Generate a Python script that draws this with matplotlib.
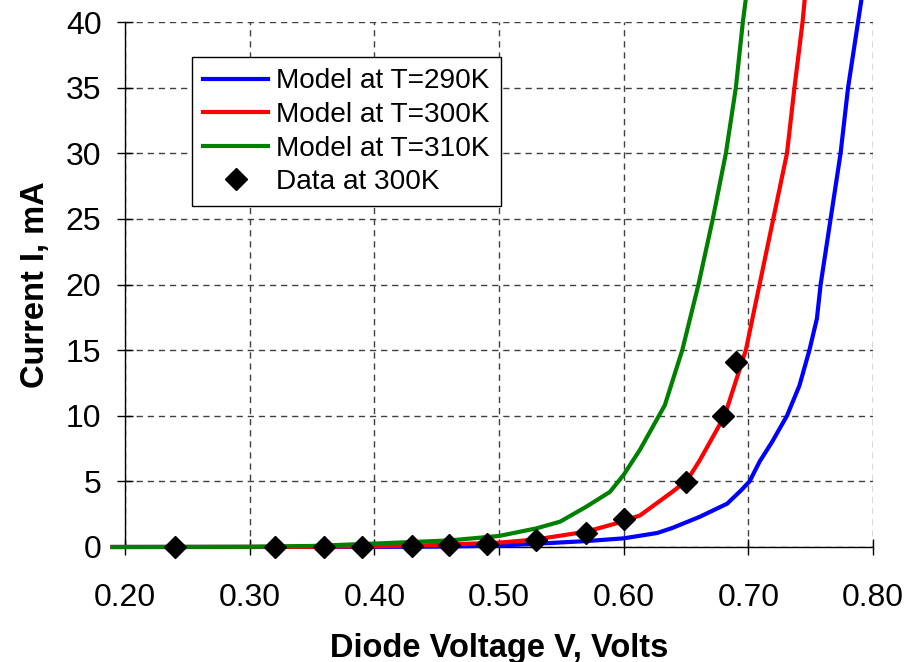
import numpy as np
import matplotlib
matplotlib.use("Agg")
import matplotlib.pyplot as plt

plt.rcParams['font.family'] = ['Liberation Sans', 'DejaVu Sans']

#Model curves (V in volts, I in mA)
v_290 = [0.19, 0.30, 0.40, 0.45, 0.50, 0.57, 0.60, 0.627, 0.639, 0.661, 0.683, 0.694, 0.701,
         0.709, 0.719, 0.731, 0.741, 0.749, 0.755, 0.758, 0.766, 0.774, 0.780, 0.788, 0.792]
i_290 = [0.0, 0.0, 0.01, 0.03, 0.1, 0.45, 0.66, 1.07, 1.45, 2.3, 3.3, 4.3, 5.0,
         6.5, 8.0, 10.0, 12.3, 15.0, 17.4, 20.0, 25.0, 30.0, 35.0, 40.0, 42.5]

v_300 = [0.19, 0.35, 0.40, 0.45, 0.47, 0.50, 0.53, 0.57, 0.594, 0.613, 0.639, 0.651, 0.661,
         0.681, 0.698, 0.709, 0.720, 0.731, 0.737, 0.7435, 0.746]
i_300 = [0.0, 0.01, 0.05, 0.15, 0.23, 0.33, 0.58, 1.17, 1.8, 2.4, 4.2, 5.1, 6.6,
         10.0, 15.0, 20.0, 25.0, 30.0, 35.0, 40.0, 42.5]

v_310 = [0.19, 0.30, 0.35, 0.40, 0.46, 0.50, 0.53, 0.549, 0.57, 0.589, 0.600, 0.613, 0.633,
         0.647, 0.660, 0.6715, 0.682, 0.690, 0.6956, 0.699]
i_310 = [0.0, 0.02, 0.08, 0.26, 0.5, 0.84, 1.42, 1.93, 3.07, 4.2, 5.5, 7.4, 10.8,
         15.0, 20.0, 25.0, 30.0, 35.0, 40.0, 42.5]

#Measured data at 300K
v_data = [0.24, 0.32, 0.36, 0.39, 0.43, 0.46, 0.49, 0.53, 0.57, 0.60, 0.65, 0.68, 0.69]
i_data = [0.0, 0.0, 0.0, 0.0, 0.05, 0.15, 0.23, 0.53, 1.04, 2.1, 4.95, 10.0, 14.1]

x_ticks = [0.2, 0.3, 0.4, 0.5, 0.6, 0.7, 0.8]
y_ticks = [0, 5, 10, 15, 20, 25, 30, 35, 40]

fig = plt.figure(figsize=(9.2, 6.62), dpi=100)
ax = fig.add_axes([125/920, 1-547/662, 748/920, 525/662])

ax.plot(v_290, i_290, color="#0000ff", lw=3, clip_on=False, label="Model at T=290K", zorder=3)
ax.plot(v_300, i_300, color="#ff0000", lw=3, clip_on=False, label="Model at T=300K", zorder=3)
ax.plot(v_310, i_310, color="#008000", lw=3, clip_on=False, label="Model at T=310K", zorder=3)
ax.plot(v_data, i_data, ls="none", marker="D", ms=11.5, color="black", clip_on=False,
        label="Data at 300K", zorder=4)

ax.set_xlim(0.2, 0.8)
ax.set_ylim(0, 40)
ax.set_xticks(x_ticks)
ax.set_xticklabels(["%.2f" % v for v in x_ticks])
ax.set_yticks(y_ticks)

ax.grid(True, color="#404040", lw=1, linestyle=(0, (4.5, 3.5)))
ax.set_axisbelow(True)
ax.spines["top"].set_visible(False)
ax.spines["right"].set_visible(False)
ax.spines["left"].set_linewidth(1)
ax.spines["bottom"].set_linewidth(1)

ax.tick_params(axis="both", direction="inout", length=12, width=1, labelsize=23)
ax.tick_params(axis="x", pad=20)
ax.tick_params(axis="y", pad=11)

ax.set_xlabel("Diode Voltage V, Volts", fontsize=23.5, fontweight="bold")
ax.set_ylabel("Current I, mA", fontsize=23.5, fontweight="bold")
ax.xaxis.set_label_coords(0.5, -0.163)
ax.yaxis.set_label_coords(-0.099, 0.5)

leg = ax.legend(loc="upper left", bbox_to_anchor=(0.0896, 0.933), borderaxespad=0,
                fontsize=20.2, frameon=True, fancybox=False, framealpha=1,
                edgecolor="black", handlelength=2.3, handletextpad=0.3,
                labelspacing=0.27, borderpad=0.4)
leg.get_frame().set_linewidth(1)

plt.savefig("out.png", dpi=100)
plt.close(fig)
